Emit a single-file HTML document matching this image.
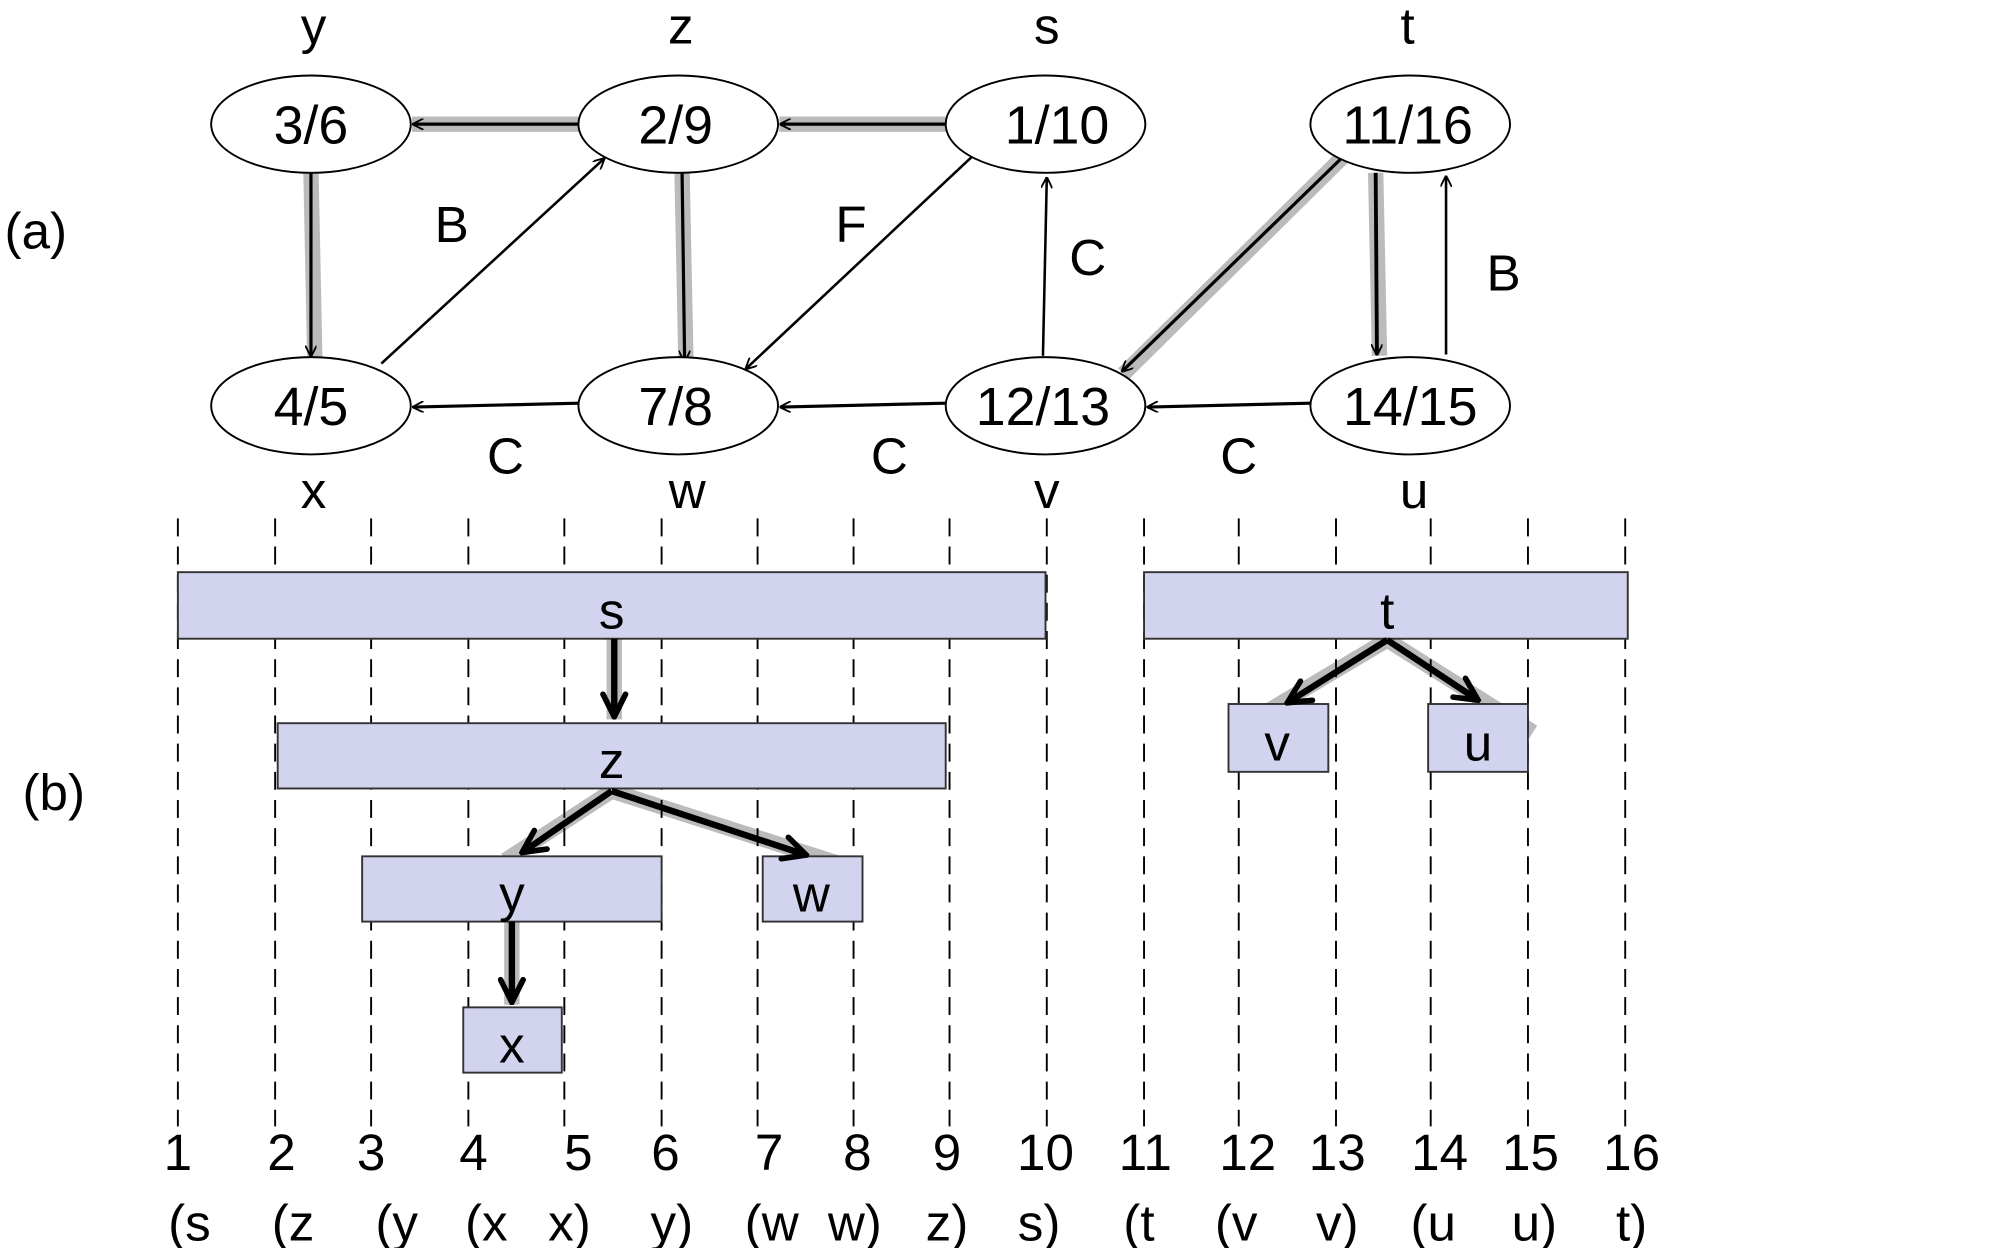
<!DOCTYPE html>
<html><head><meta charset="utf-8"><style>html,body{margin:0;padding:0;background:#fff}svg{display:block}</style></head>
<body>
<svg width="2004" height="1248" viewBox="0 0 1566 975" preserveAspectRatio="none" xmlns="http://www.w3.org/2000/svg" font-family="Liberation Sans, sans-serif">
<defs>
<marker id="a" viewBox="0 0 10 10" refX="9" refY="5" markerWidth="9" markerHeight="9" markerUnits="userSpaceOnUse" orient="auto"><path d="M0,0 L10,5 L0,10" fill="none" stroke="#000" stroke-width="1.6"/></marker>
<marker id="b" viewBox="0 0 10 10" refX="9" refY="5" markerWidth="22" markerHeight="22" markerUnits="userSpaceOnUse" orient="auto"><path d="M1,1 L9,5 L1,9" fill="none" stroke="#000" stroke-width="2" stroke-linecap="round"/></marker>
</defs>
<g stroke="#bbb" stroke-width="12" fill="none">
<line x1="452" y1="97" x2="322" y2="97"/>
<line x1="739" y1="97" x2="609" y2="97"/>
<line x1="243" y1="135" x2="246" y2="280"/>
<line x1="533" y1="135" x2="536" y2="283"/>
<line x1="1052" y1="120" x2="878" y2="292"/>
<line x1="1075" y1="135" x2="1078" y2="278"/>
<line x1="480" y1="499" x2="480" y2="562"/>
<line x1="478" y1="618" x2="395" y2="672"/>
<line x1="478" y1="618" x2="660" y2="676"/>
<line x1="400" y1="720" x2="400" y2="785"/>
<line x1="1084" y1="500" x2="963" y2="572"/>
<line x1="1084" y1="500" x2="1198" y2="572"/>
</g>
<g stroke="#000" fill="none">
<line x1="452" y1="97" x2="323" y2="97" stroke-width="2.5" marker-end="url(#a)"/>
<line x1="739" y1="97" x2="610" y2="97" stroke-width="2.5" marker-end="url(#a)"/>
<line x1="243" y1="135" x2="243" y2="278" stroke-width="2.5" marker-end="url(#a)"/>
<line x1="533" y1="135" x2="535" y2="282" stroke-width="2.5" marker-end="url(#a)"/>
<line x1="298" y1="284" x2="472" y2="124" stroke-width="2" marker-end="url(#a)"/>
<line x1="760" y1="122" x2="583" y2="288" stroke-width="2" marker-end="url(#a)"/>
<line x1="815" y1="278" x2="818" y2="139" stroke-width="2" marker-end="url(#a)"/>
<line x1="1050" y1="122" x2="877" y2="290" stroke-width="2.5" marker-end="url(#a)"/>
<line x1="1075" y1="135" x2="1076" y2="277" stroke-width="3" marker-end="url(#a)"/>
<line x1="1130" y1="277" x2="1130" y2="138" stroke-width="2" marker-end="url(#a)"/>
<line x1="1024" y1="315" x2="897" y2="318" stroke-width="2.5" marker-end="url(#a)"/>
<line x1="739" y1="315" x2="610" y2="318" stroke-width="2.5" marker-end="url(#a)"/>
<line x1="452" y1="315" x2="323" y2="318" stroke-width="2.5" marker-end="url(#a)"/>
</g>
<g fill="#fff" stroke="#000" stroke-width="1.5">
<ellipse cx="243" cy="97" rx="78" ry="38"/><ellipse cx="530" cy="97" rx="78" ry="38"/>
<ellipse cx="817" cy="97" rx="78" ry="38"/><ellipse cx="1102" cy="97" rx="78" ry="38"/>
<ellipse cx="243" cy="317" rx="78" ry="38"/><ellipse cx="530" cy="317" rx="78" ry="38"/>
<ellipse cx="817" cy="317" rx="78" ry="38"/><ellipse cx="1102" cy="317" rx="78" ry="38"/>
</g>
<g font-size="42" text-anchor="middle">
<text x="243" y="112">3/6</text><text x="528" y="112">2/9</text><text x="826" y="112">1/10</text><text x="1100" y="112">11/16</text>
<text x="243" y="332">4/5</text><text x="528" y="332">7/8</text><text x="815" y="332">12/13</text><text x="1102" y="332">14/15</text>
</g>
<g font-size="40" text-anchor="middle">
<text x="245" y="34">y</text><text x="532" y="34">z</text><text x="818" y="34">s</text><text x="1100" y="34">t</text>
<text x="245" y="397">x</text><text x="537" y="397">w</text><text x="818" y="397">v</text><text x="1105" y="397">u</text>
<text x="353" y="189">B</text><text x="665" y="189">F</text><text x="850" y="215">C</text><text x="1175" y="227">B</text>
<text x="395" y="370">C</text><text x="695" y="370">C</text><text x="968" y="370">C</text>
<text x="28" y="194">(a)</text><text x="42" y="633">(b)</text>
</g>
<g stroke="#000" stroke-width="1.5" stroke-dasharray="14,8">
<line x1="139" y1="405" x2="139" y2="880"/><line x1="215" y1="405" x2="215" y2="880"/>
<line x1="290" y1="405" x2="290" y2="880"/><line x1="366" y1="405" x2="366" y2="880"/>
<line x1="441" y1="405" x2="441" y2="880"/><line x1="517" y1="405" x2="517" y2="880"/>
<line x1="592" y1="405" x2="592" y2="880"/><line x1="667" y1="405" x2="667" y2="880"/>
<line x1="742" y1="405" x2="742" y2="880"/><line x1="818" y1="405" x2="818" y2="880"/>
<line x1="894" y1="405" x2="894" y2="880"/><line x1="968" y1="405" x2="968" y2="880"/>
<line x1="1044" y1="405" x2="1044" y2="880"/><line x1="1118" y1="405" x2="1118" y2="880"/>
<line x1="1194" y1="405" x2="1194" y2="880"/><line x1="1270" y1="405" x2="1270" y2="880"/>
</g>
<g fill="#d2d4ef" stroke="#333" stroke-width="1.5">
<rect x="139" y="447" width="678" height="52"/><rect x="894" y="447" width="378" height="52"/>
<rect x="217" y="565" width="522" height="51"/><rect x="283" y="669" width="234" height="51"/>
<rect x="596" y="669" width="78" height="51"/><rect x="362" y="787" width="77" height="51"/>
<rect x="960" y="550" width="78" height="53"/><rect x="1116" y="550" width="78" height="53"/>
</g>
<g stroke="#000" stroke-width="5" fill="none">
<line x1="480" y1="499" x2="480" y2="560" marker-end="url(#b)"/>
<line x1="478" y1="618" x2="408" y2="666" marker-end="url(#b)"/>
<line x1="478" y1="618" x2="630" y2="668" marker-end="url(#b)"/>
<line x1="400" y1="720" x2="400" y2="783" marker-end="url(#b)"/>
<line x1="1084" y1="500" x2="1006" y2="549" marker-end="url(#b)"/>
<line x1="1084" y1="500" x2="1155" y2="547" marker-end="url(#b)"/>
</g>
<g font-size="40" text-anchor="middle">
<text x="478" y="491">s</text><text x="1084" y="491">t</text><text x="478" y="608">z</text>
<text x="400" y="712">y</text><text x="634" y="712">w</text><text x="400" y="830">x</text>
<text x="998" y="594">v</text><text x="1155" y="594">u</text>
</g>
<g font-size="40" text-anchor="middle">
<text x="139" y="914">1</text><text x="220" y="914">2</text><text x="290" y="914">3</text><text x="370" y="914">4</text>
<text x="452" y="914">5</text><text x="520" y="914">6</text><text x="601" y="914">7</text><text x="670" y="914">8</text>
<text x="740" y="914">9</text><text x="817" y="914">10</text><text x="895" y="914">11</text><text x="975" y="914">12</text>
<text x="1045" y="914">13</text><text x="1125" y="914">14</text><text x="1196" y="914">15</text><text x="1275" y="914">16</text>
<text x="148" y="969">(s</text><text x="229" y="969">(z</text><text x="310" y="969">(y</text><text x="380" y="969">(x</text>
<text x="445" y="969">x)</text><text x="525" y="969">y)</text><text x="603" y="969">(w</text><text x="668" y="969">w)</text>
<text x="740" y="969">z)</text><text x="812" y="969">s)</text><text x="890" y="969">(t</text><text x="966" y="969">(v</text>
<text x="1045" y="969">v)</text><text x="1120" y="969">(u</text><text x="1199" y="969">u)</text><text x="1275" y="969">t)</text>
</g>
</svg>
</body></html>
